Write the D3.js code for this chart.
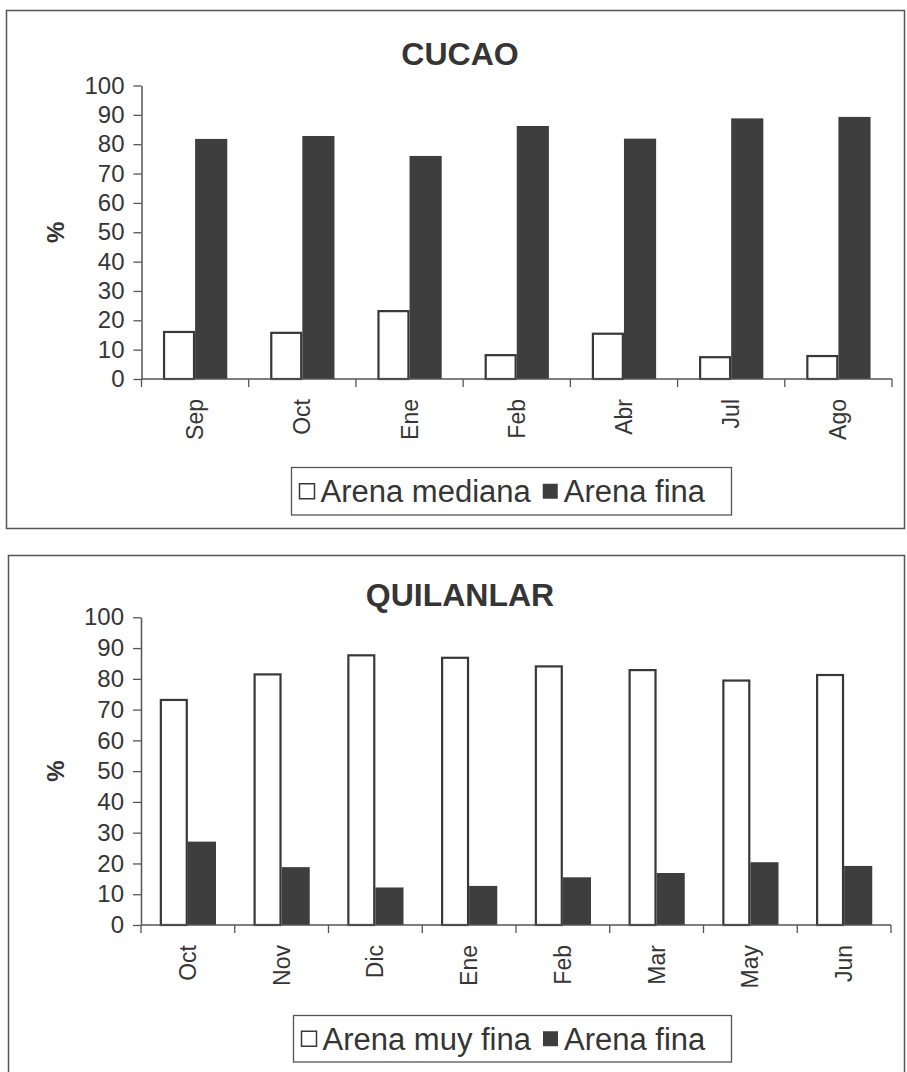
<!DOCTYPE html>
<html>
<head>
<meta charset="utf-8">
<script src="https://cdn.jsdelivr.net/npm/d3@7"></script>
<style>
  html, body { margin: 0; padding: 0; background: #fff; }
  svg { display: block; }
  text { font-family: "Liberation Sans", Arial, sans-serif; fill: #353535; }
</style>
</head>
<body>
<script>
// ---- Data ----
const cucaoMonths = ["Sep", "Oct", "Ene", "Feb", "Abr", "Jul", "Ago"];
const cucaoMediana = [16.4, 16.1, 23.5, 8.5, 15.8, 7.8, 8.2];
const cucaoFina = [81.8, 82.8, 76.0, 86.2, 81.9, 88.8, 89.3];

const quilMonths = ["Oct", "Nov", "Dic", "Ene", "Feb", "Mar", "May", "Jun"];
const quilMuyFina = [73.5, 81.8, 88.0, 87.2, 84.4, 83.2, 79.8, 81.6];
const quilFina = [27.1, 18.8, 12.2, 12.7, 15.5, 16.9, 20.4, 19.2];

const yTicks = [0, 10, 20, 30, 40, 50, 60, 70, 80, 90, 100];
const yLabel = "%";

// ---- Drawing ----
const W = 907, H = 1072;
const ink = "#383838";
const svg = d3.select("body").append("svg").attr("width", W).attr("height", H);
svg.append("rect").attr("width", W).attr("height", H).attr("fill", "#fff");

function drawChart(cfg) {
  const g = svg.append("g");
  // frame
  g.append("rect")
    .attr("x", cfg.frame[0]).attr("y", cfg.frame[1])
    .attr("width", cfg.frame[2]).attr("height", cfg.frame[3])
    .attr("fill", "none").attr("stroke", "#555").attr("stroke-width", 1.5);

  // title
  g.append("text").attr("x", 460).attr("y", cfg.titleY)
    .attr("text-anchor", "middle").attr("font-size", 32).attr("font-weight", "bold")
    .text(cfg.title);

  const x0 = d3.scaleBand().domain(cfg.categories).range([cfg.x0, cfg.x1]).padding(0);
  const x1 = d3.scaleBand().domain([0, 1]).range([0, x0.bandwidth()])
    .paddingInner(0).paddingOuter(0.667);
  const y = d3.scaleLinear().domain([0, 100]).range([cfg.yBottom, cfg.yTop]);

  // bars
  const series = [
    { vals: cfg.s1, fill: "#fff", stroke: ink, sw: 2.2 },
    { vals: cfg.s2, fill: "#3e3e3e", stroke: "none", sw: 0 }
  ];
  series.forEach((s, si) => {
    g.append("g").selectAll("rect").data(s.vals).join("rect")
      .attr("x", (d, i) => x0(cfg.categories[i]) + x1(si) + (si === 0 ? s.sw / 2 : 0))
      .attr("y", d => y(d) + s.sw / 2)
      .attr("width", x1.bandwidth() - s.sw)
      .attr("height", d => y(0) - y(d) - s.sw / 2)
      .attr("fill", s.fill).attr("stroke", s.stroke).attr("stroke-width", s.sw);
  });

  // y axis
  const yAxis = d3.axisLeft(y).tickValues(yTicks).tickSize(8).tickPadding(9).tickSizeOuter(0);
  const ya = g.append("g").attr("transform", `translate(${cfg.x0},0)`).call(yAxis);
  ya.select(".domain").attr("stroke", "#555").attr("stroke-width", 1.5);
  ya.selectAll(".tick line").attr("stroke", "#555").attr("stroke-width", 1.3);
  ya.selectAll(".tick text").attr("font-size", 24).attr("fill", "#353535")
    .attr("font-family", "Liberation Sans, Arial, sans-serif");

  // x axis: ticks at category boundaries
  const xa = g.append("g").attr("transform", `translate(0,${cfg.yBottom})`);
  xa.append("line").attr("x1", cfg.x0).attr("x2", cfg.x1).attr("y1", 0).attr("y2", 0)
    .attr("stroke", "#555").attr("stroke-width", 1.5);
  const bounds = cfg.categories.map(c => x0(c)).concat([cfg.x1]);
  xa.selectAll("line.tk").data(bounds).join("line").attr("class", "tk")
    .attr("x1", d => d).attr("x2", d => d).attr("y1", 0).attr("y2", 8)
    .attr("stroke", "#555").attr("stroke-width", 1.3);
  xa.selectAll("text").data(cfg.categories).join("text")
    .attr("transform", d => `translate(${x0(d) + x0.bandwidth() / 2},20) rotate(-90)`)
    .attr("text-anchor", "end").attr("dy", "0.35em").attr("font-size", 23)
    .text(d => d);

  // y label
  g.append("text")
    .attr("transform", `translate(56,${(cfg.yTop + cfg.yBottom) / 2}) rotate(-90)`)
    .attr("text-anchor", "middle").attr("dy", "0.35em")
    .attr("font-size", 24).attr("font-weight", "bold").text(yLabel);

  // legend
  const L = cfg.legend;
  const lg = g.append("g");
  lg.append("rect").attr("x", L.x).attr("y", L.y).attr("width", L.w).attr("height", L.h)
    .attr("fill", "#fff").attr("stroke", "#555").attr("stroke-width", 1.3);
  const cy = L.y + L.h / 2;
  let cx = L.x + 8;
  cfg.names.forEach((name, i) => {
    lg.append("rect").attr("x", cx).attr("y", cy - 7.5).attr("width", 15).attr("height", 15)
      .attr("fill", i === 0 ? "#fff" : "#3e3e3e")
      .attr("stroke", i === 0 ? ink : "none").attr("stroke-width", 1.5);
    const t = lg.append("text").attr("x", cx + 21).attr("y", cy).attr("dy", "0.36em")
      .attr("font-size", 31).text(name);
    cx = cx + 21 + t.node().getComputedTextLength() + 12;
  });
}

drawChart({
  title: "CUCAO", titleY: 65,
  frame: [6.5, 10.5, 898, 518],
  categories: cucaoMonths, s1: cucaoMediana, s2: cucaoFina,
  names: ["Arena mediana", "Arena fina"],
  x0: 141.5, x1: 892, yBottom: 379, yTop: 85.5,
  legend: { x: 291.5, y: 467.5, w: 440, h: 47.5 }
});

drawChart({
  title: "QUILANLAR", titleY: 606,
  frame: [8.5, 555.5, 896, 540],
  categories: quilMonths, s1: quilMuyFina, s2: quilFina,
  names: ["Arena muy fina", "Arena fina"],
  x0: 141, x1: 891, yBottom: 925, yTop: 617.3,
  legend: { x: 293.5, y: 1015.5, w: 438, h: 46.5 }
});
</script>
</body>
</html>
